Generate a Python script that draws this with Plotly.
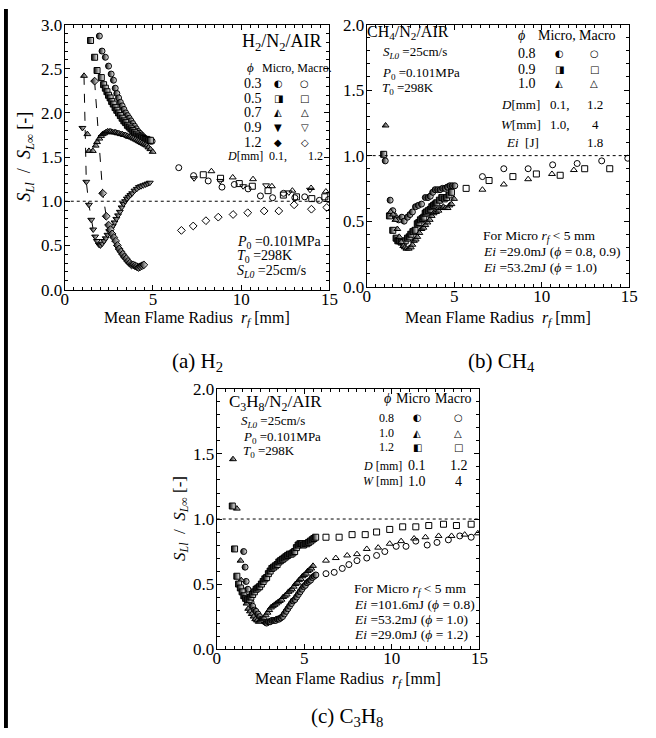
import plotly.graph_objects as go

FONT = "Liberation Serif"
GLYPH = "DejaVu Sans"
W, H = 656, 738

# ---------------- (a) H2/N2/AIR ----------------
h2_micro_03 = [(1.96,2.87),(2.11,2.70),(2.30,2.63),(2.48,2.53),(2.63,2.44),(2.76,2.37),(2.86,2.28),(2.95,2.22),
               (3.05,2.17),(3.15,2.12),(3.25,2.08),(3.35,2.04),(3.45,2.00),(3.55,1.97),(3.65,1.94),(3.75,1.91),
               (3.85,1.88),(3.95,1.85),(4.05,1.82),(4.15,1.79),(4.25,1.77),(4.35,1.75),(4.45,1.73),(4.55,1.71),
               (4.65,1.70),(4.75,1.69),(4.85,1.68),(4.95,1.68)]
h2_micro_05 = [(1.46,2.82),(1.69,2.63),(1.83,2.48),(2.07,2.40),(2.20,2.32),(2.30,2.28),(2.39,2.24),(2.48,2.20),
               (2.57,2.17),(2.66,2.13),(2.75,2.10),(2.85,2.06),(2.95,2.03),(3.05,2.00),(3.15,1.97),(3.25,1.94),
               (3.35,1.91),(3.45,1.89),(3.55,1.86),(3.65,1.84),(3.75,1.82),(3.85,1.80),(3.95,1.78),(4.05,1.76),
               (4.15,1.74),(4.25,1.73),(4.35,1.72),(4.45,1.71),(4.55,1.70),(4.65,1.70),(4.75,1.69),(4.85,1.69)]
h2_micro_07 = [(1.09,2.42),(1.28,1.76),(1.37,1.57),(1.59,1.57),(1.75,1.63),(1.83,1.67),(1.96,1.71),(2.06,1.74),
               (2.15,1.76),(2.24,1.77),(2.33,1.78),(2.42,1.79),(2.52,1.79),(2.61,1.79),(2.70,1.78),(2.80,1.78),
               (2.89,1.78),(2.98,1.77),(3.07,1.77),(3.17,1.76),(3.26,1.76),(3.35,1.75),(3.44,1.75),(3.54,1.74),
               (3.63,1.73),(3.72,1.73),(3.81,1.72),(3.90,1.71),(4.00,1.70),(4.10,1.69),(4.19,1.68),(4.28,1.67),
               (4.37,1.66),(4.47,1.65),(4.56,1.64),(4.65,1.63),(4.74,1.61),(4.85,1.59),(4.98,1.56)]
h2_micro_09 = [(1.00,1.83),(1.22,1.22),(1.37,0.96),(1.50,0.79),(1.61,0.68),(1.72,0.60),(1.82,0.55),(1.93,0.51),
               (2.02,0.50),(2.12,0.52),(2.22,0.55),(2.32,0.58),(2.42,0.62),(2.52,0.66),(2.62,0.69),(2.72,0.72),
               (2.82,0.76),(2.92,0.80),(3.02,0.84),(3.12,0.88),(3.22,0.93),(3.32,0.97),(3.42,1.00),(3.52,1.03),
               (3.62,1.05),(3.72,1.07),(3.82,1.09),(3.95,1.12),(4.08,1.14),(4.20,1.16),(4.32,1.17),(4.45,1.18),
               (4.58,1.19),(4.70,1.20),(4.82,1.21)]
h2_micro_12 = [(1.69,2.36),(2.15,1.09),(2.35,0.83),(2.48,0.73),(2.58,0.68),(2.68,0.63),(2.78,0.59),(2.88,0.55),
               (2.98,0.50),(3.08,0.46),(3.18,0.43),(3.28,0.40),(3.38,0.37),(3.48,0.35),(3.58,0.32),(3.68,0.30),
               (3.78,0.28),(3.88,0.28),(3.98,0.27),(4.08,0.26),(4.18,0.25),(4.28,0.26),(4.38,0.27),(4.48,0.28)]
h2_guide_1 = [(1.09,2.42),(1.22,1.22),(1.37,0.96),(1.50,0.79),(1.61,0.68)]
h2_guide_2 = [(1.69,2.36),(2.15,1.09),(2.35,0.83)]

h2_macro_03 = [(6.46,1.38),(7.30,1.29),(8.13,1.23),(8.91,1.16),(9.61,1.19),(10.39,1.14),(11.09,1.06),
               (11.78,1.04),(12.40,1.09),(13.04,1.04),(13.60,1.05),(14.43,1.01),(14.95,1.02)]
h2_macro_05 = [(7.85,1.30),(8.83,1.26),(9.89,1.20),(10.63,1.17),(11.52,1.12),(12.39,1.07),(13.13,1.05),
               (14.00,1.03),(14.74,1.05)]
h2_macro_07 = [(8.31,1.34),(9.52,1.27),(10.67,1.25),(11.74,1.17),(12.90,1.12),(13.96,1.15),(14.80,1.11)]
h2_macro_09 = [(7.33,1.26),(8.81,1.23),(10.11,1.17),(11.41,1.18),(12.70,1.10),(13.90,1.13)]
h2_macro_12 = [(6.61,0.67),(7.28,0.72),(8.00,0.78),(8.70,0.82),(9.54,0.85),(10.37,0.87),(11.30,0.89),
               (12.13,0.89),(13.00,0.96),(13.98,0.91),(14.85,0.93)]

# ---------------- (b) CH4/N2/AIR ----------------
ch4_micro_08 = [(1.06,0.96),(1.34,0.66),(1.49,0.58),(1.58,0.54),(1.70,0.52),(1.83,0.51),(2.01,0.53),(2.14,0.50),
                (2.33,0.53),(2.47,0.55),(2.61,0.57),(2.79,0.61),(2.95,0.62),(3.13,0.63),(3.35,0.68),(3.50,0.68),
                (3.63,0.69),(3.77,0.72),(3.91,0.74),(4.05,0.74),(4.19,0.74),(4.33,0.75),(4.47,0.75),(4.61,0.76),
                (4.75,0.77),(4.89,0.77),(5.03,0.77)]
ch4_micro_09 = [(0.97,1.01),(1.30,0.54),(1.49,0.43),(1.68,0.37),(1.78,0.35),(1.86,0.35),(1.97,0.34),(2.09,0.34),
                (2.20,0.35),(2.33,0.37),(2.43,0.38),(2.52,0.40),(2.64,0.42),(2.76,0.43),(2.89,0.48),(2.98,0.49),
                (3.07,0.51),(3.17,0.52),(3.26,0.53),(3.34,0.56),(3.41,0.57),(3.52,0.58),(3.63,0.59),(3.72,0.61),
                (3.82,0.62),(3.91,0.63),(4.00,0.64),(4.15,0.66),(4.29,0.68),(4.43,0.67),(4.56,0.68),(4.70,0.70),
                (4.84,0.72)]
ch4_micro_10 = [(1.08,1.23),(1.36,0.57),(1.50,0.55),(1.64,0.51),(1.75,0.44),(1.86,0.38),(1.97,0.34),(2.09,0.31),
                (2.18,0.30),(2.27,0.29),(2.40,0.29),(2.52,0.30),(2.61,0.32),(2.70,0.35),(2.80,0.36),(2.89,0.38),
                (3.01,0.41),(3.13,0.44),(3.24,0.45),(3.35,0.47),(3.47,0.49),(3.60,0.51),(3.71,0.54),(3.82,0.56),
                (3.96,0.57),(4.10,0.58),(4.24,0.60),(4.38,0.61),(4.50,0.60),(4.62,0.60),(4.73,0.62),(4.84,0.63),
                (4.99,0.67)]
ch4_macro_08 = [(6.61,0.84),(7.83,0.90),(9.22,0.90),(10.62,0.93),(12.02,0.94),(13.42,0.96),(14.91,0.98)]
ch4_macro_09 = [(5.68,0.75),(6.99,0.81),(8.35,0.84),(9.69,0.86),(11.05,0.85),(12.45,0.90),(13.88,0.90)]
ch4_macro_10 = [(6.61,0.74),(7.83,0.78),(9.22,0.82),(10.58,0.86),(11.83,0.89)]

# ---------------- (c) C3H8/N2/AIR ----------------
c3_micro_08 = [(1.54,0.75),(1.62,0.63),(1.68,0.52),(1.78,0.46),(1.86,0.40),(1.96,0.36),(2.05,0.33),(2.15,0.30),
               (2.24,0.29),(2.35,0.27),(2.45,0.25),(2.55,0.23),(2.65,0.22),(2.75,0.21),(2.85,0.20),(2.95,0.21),
               (3.05,0.21),(3.15,0.22),(3.26,0.22),(3.36,0.22),(3.46,0.23),(3.56,0.23),(3.66,0.24),(3.76,0.25),
               (3.86,0.27),(3.96,0.29),(4.06,0.31),(4.16,0.33),(4.26,0.35),(4.36,0.37),(4.46,0.38),(4.56,0.40),
               (4.66,0.42),(4.76,0.44),(4.86,0.46),(4.96,0.48),(5.06,0.49),(5.16,0.51),(5.26,0.52),(5.36,0.53),
               (5.46,0.55),(5.56,0.56),(5.66,0.57)]
c3_micro_10 = [(0.93,1.46),(1.15,1.08),(1.36,0.68),(1.40,0.53),(1.50,0.46),(1.60,0.40),(1.70,0.35),(1.80,0.31),
               (1.90,0.29),(2.00,0.27),(2.10,0.25),(2.20,0.23),(2.30,0.22),(2.40,0.21),(2.50,0.22),(2.60,0.23),
               (2.70,0.24),(2.80,0.26),(2.90,0.28),(3.00,0.30),(3.10,0.32),(3.20,0.33),(3.30,0.34),(3.40,0.35),
               (3.50,0.36),(3.60,0.37),(3.70,0.38),(3.80,0.40),(3.90,0.41),(4.00,0.42),(4.10,0.44),(4.20,0.45),
               (4.30,0.46),(4.40,0.48),(4.50,0.50),(4.60,0.51),(4.70,0.53),(4.80,0.54),(4.90,0.56),(5.00,0.57),
               (5.10,0.58),(5.20,0.60),(5.30,0.61),(5.40,0.62),(5.50,0.64)]
c3_micro_12 = [(0.89,1.10),(1.02,0.77),(1.15,0.56),(1.25,0.50),(1.35,0.47),(1.45,0.44),(1.55,0.41),(1.65,0.39),
               (1.75,0.38),(1.85,0.38),(1.95,0.40),(2.05,0.42),(2.15,0.44),(2.25,0.46),(2.35,0.47),(2.45,0.48),
               (2.55,0.50),(2.65,0.52),(2.75,0.54),(2.85,0.55),(2.95,0.58),(3.05,0.60),(3.15,0.62),(3.25,0.63),
               (3.35,0.64),(3.45,0.65),(3.55,0.67),(3.65,0.68),(3.75,0.69),(3.85,0.70),(3.95,0.71),(4.05,0.72),
               (4.15,0.73),(4.25,0.73),(4.35,0.74),(4.45,0.75),(4.55,0.78),(4.65,0.80),(4.75,0.81),(4.85,0.81),
               (4.95,0.80),(5.05,0.81),(5.15,0.81),(5.25,0.82),(5.35,0.83),(5.45,0.84),(5.55,0.85),(5.65,0.86)]
c3_macro_08 = [(6.24,0.58),(6.71,0.59),(7.17,0.62),(7.55,0.65),(8.01,0.68),(8.57,0.70),(9.13,0.72),(9.60,0.75),
               (10.25,0.79),(10.81,0.79),(11.37,0.83),(12.02,0.80),(12.58,0.82),(13.23,0.84),(13.88,0.87),(14.53,0.86)]
c3_macro_10 = [(6.24,0.68),(6.80,0.70),(7.45,0.72),(8.01,0.73),(8.57,0.77),(9.22,0.78),(9.88,0.81),(10.53,0.83),
               (11.27,0.85),(11.92,0.86),(12.67,0.87),(13.41,0.87),(14.16,0.88),(14.91,0.89)]
c3_macro_12 = [(6.24,0.86),(6.99,0.86),(7.73,0.88),(8.48,0.88),(9.13,0.90),(9.88,0.92),(10.62,0.94),(11.37,0.94),
               (12.11,0.95),(12.95,0.96),(13.69,0.95),(14.53,0.96)]

reference_ratio = 1.0
x_ticks = [0, 5, 10, 15]

# ---------------- helpers ----------------
def xs(pts): return [p[0] for p in pts]
def ys(pts): return [p[1] for p in pts]

def micro(sym):
    return dict(symbol=sym, size=6, color="black",
                gradient=dict(type="horizontal", color="white"),
                line=dict(color="black", width=1))

def macro(sym):
    return dict(symbol=sym + "-open", size=6, color="black", line=dict(color="black", width=1))

fig = go.Figure()

def add(pts, marker, xa, ya):
    fig.add_trace(go.Scatter(x=xs(pts), y=ys(pts), mode="markers", marker=marker,
                             xaxis=xa, yaxis=ya, showlegend=False, hoverinfo="skip"))

def add_line(pts, xa, ya):
    fig.add_trace(go.Scatter(x=xs(pts), y=ys(pts), mode="lines",
                             line=dict(color="black", width=1, dash="dash"),
                             xaxis=xa, yaxis=ya, showlegend=False, hoverinfo="skip"))

# (a)
add_line(h2_guide_1, "x", "y")
add_line(h2_guide_2, "x", "y")
for pts, sym in [(h2_macro_03, "circle"), (h2_macro_05, "square"), (h2_macro_07, "triangle-up"),
                 (h2_macro_09, "triangle-down"), (h2_macro_12, "diamond")]:
    add(pts, macro(sym), "x", "y")
for pts, sym in [(h2_micro_03, "circle"), (h2_micro_05, "square"), (h2_micro_07, "triangle-up"),
                 (h2_micro_09, "triangle-down"), (h2_micro_12, "diamond")]:
    add(pts, micro(sym), "x", "y")
# (b)
for pts, sym in [(ch4_macro_08, "circle"), (ch4_macro_09, "square"), (ch4_macro_10, "triangle-up")]:
    add(pts, macro(sym), "x2", "y2")
for pts, sym in [(ch4_micro_08, "circle"), (ch4_micro_09, "square"), (ch4_micro_10, "triangle-up")]:
    add(pts, micro(sym), "x2", "y2")
# (c)
for pts, sym in [(c3_macro_08, "circle"), (c3_macro_10, "triangle-up"), (c3_macro_12, "square")]:
    add(pts, macro(sym), "x3", "y3")
for pts, sym in [(c3_micro_08, "circle"), (c3_micro_10, "triangle-up"), (c3_micro_12, "square")]:
    add(pts, micro(sym), "x3", "y3")

# ---------------- axes ----------------
def px_x(a, b): return [a / W, b / W]
def px_y(top, bottom): return [1 - bottom / H, 1 - top / H]

def xaxis(domain, anchor):
    return dict(domain=domain, anchor=anchor, range=[0, 15], tickvals=x_ticks,
                ticks="inside", ticklen=5, tickwidth=1, tickcolor="black",
                showline=True, linecolor="black", linewidth=1, mirror="allticks",
                showgrid=False, zeroline=False, ticklabelstandoff=-6,
                minor=dict(dtick=0.5, tick0=0, ticks="inside", ticklen=3, tickwidth=1, tickcolor="black", showgrid=False),
                tickfont=dict(family=FONT, size=17, color="black"))

def yaxis(domain, anchor, top):
    return dict(domain=domain, anchor=anchor, range=[0, top], dtick=0.5, tick0=0, tickformat=".1f",
                ticks="inside", ticklen=5, tickwidth=1, tickcolor="black",
                showline=True, linecolor="black", linewidth=1, mirror="allticks",
                showgrid=False, zeroline=False, ticklabelstandoff=-2,
                minor=dict(dtick=0.1, tick0=0, ticks="inside", ticklen=3, tickwidth=1, tickcolor="black", showgrid=False),
                tickfont=dict(family=FONT, size=17, color="black"))

layout_axes = dict(
    xaxis=xaxis(px_x(62, 332), "y"), yaxis=yaxis(px_y(16, 288), "x", 3.0),
    xaxis2=xaxis(px_x(370, 638), "y2"), yaxis2=yaxis(px_y(16, 285), "x2", 2.0),
    xaxis3=xaxis(px_x(217, 485), "y3"), yaxis3=yaxis(px_y(390, 657), "x3", 2.0),
)

shapes = []
for xr, yr in [("x", "y"), ("x2", "y2"), ("x3", "y3")]:
    shapes.append(dict(type="line", xref=xr + " domain", x0=0, x1=1, yref=yr,
                       y0=reference_ratio, y1=reference_ratio,
                       line=dict(color="black", width=1, dash="dot")))
shapes.append(dict(type="rect", xref="paper", yref="paper", x0=0, x1=4 / W, y0=0, y1=1,
                   fillcolor="black", line=dict(width=0)))

# ---------------- annotations ----------------
ann = []
def T(x, y, text, size, xr="paper", yr="paper", xa="center", ya="middle", fam=FONT, angle=0):
    if xr == "paper":
        x = x / W
    if yr == "paper":
        y = 1 - y / H
    ann.append(dict(x=x, y=y, xref=xr, yref=yr, text=text, showarrow=False, xanchor=xa, yanchor=ya,
                    textangle=angle, font=dict(family=fam, size=size, color="black")))

PHI = "<i>ϕ</i>"
SL0 = "<i>S</i><sub><i>L0</i></sub> =25cm/s"
P0 = "<i>P</i><sub>0</sub> =0.101MPa"
T0 = "<i>T</i><sub>0</sub> =298K"
XT = "Mean Flame Radius  <i>r</i><sub><i>f</i></sub> [mm]"
YT = "<i>S</i><sub><i>Ll</i></sub>  /  <i>S</i><sub><i>L∞</i></sub> [-]"

# axis titles & captions
T(197, 318, XT, 16)
T(504, 318, XT, 16)
T(351, 688, XT, 16)
T(22, 152, YT, 18, angle=-90)
T(180, 523, YT, 17, angle=-90)
T(197, 362, "(a) H<sub>2</sub>", 21)
T(508, 362, "(b) CH<sub>4</sub>", 21)
T(350, 727, "(c) C<sub>3</sub>H<sub>8</sub>", 21)

# (a) texts
xa_, ya_ = "x", "y"
T(12.3, 2.80, "H<sub>2</sub>/N<sub>2</sub>/AIR", 18, xa_, ya_)
T(10.55, 2.51, PHI, 13, xa_, ya_)
T(13.15, 2.51, "Micro, Macro.", 12, xa_, ya_)
for lab, yy, gm, gM in [("0.3", 2.33, "◐", "○"), ("0.5", 2.165, "◨", "□"), ("0.7", 2.0, "◭", "△"),
                         ("0.9", 1.835, "▼", "▽"), ("1.2", 1.67, "◆", "◇")]:
    T(10.65, yy, lab, 14, xa_, ya_)
    T(12.1, yy, gm, 10, xa_, ya_, fam=GLYPH)
    T(13.6, yy, gM, 10, xa_, ya_, fam=GLYPH)
T(10.2, 1.51, "<i>D</i>[mm]", 12, xa_, ya_)
T(12.1, 1.51, "0.1,", 12, xa_, ya_)
T(14.2, 1.51, "1.2", 12, xa_, ya_)
T(9.63, 0.53, P0, 14, xa_, ya_, xa="left")
T(9.63, 0.37, T0, 14, xa_, ya_, xa="left")
T(9.63, 0.20, SL0, 14, xa_, ya_, xa="left")

# (b) texts
xa_, ya_ = "x2", "y2"
T(2.38, 1.94, "CH<sub>4</sub>/N<sub>2</sub>/AIR", 16, xa_, ya_)
T(0.84, 1.79, SL0, 13, xa_, ya_, xa="left")
T(0.75, 1.63, P0, 13, xa_, ya_, xa="left")
T(0.75, 1.51, T0, 13, xa_, ya_, xa="left")
T(8.85, 1.92, PHI, 14, xa_, ya_)
T(10.85, 1.92, "Micro,", 14, xa_, ya_)
T(13.2, 1.92, "Macro", 14, xa_, ya_)
for lab, yy, gm, gM in [("0.8", 1.78, "◐", "○"), ("0.9", 1.66, "◨", "□"), ("1.0", 1.55, "◭", "△")]:
    T(9.13, yy, lab, 14, xa_, ya_)
    T(11.0, yy, gm, 10, xa_, ya_, fam=GLYPH)
    T(13.0, yy, gM, 10, xa_, ya_, fam=GLYPH)
T(8.8, 1.39, "<i>D</i>[mm]", 13, xa_, ya_)
T(11.04, 1.39, "0.1,", 13, xa_, ya_)
T(13.04, 1.39, "1.2", 13, xa_, ya_)
T(8.8, 1.24, "<i>W</i>[mm]", 13, xa_, ya_)
T(11.04, 1.24, "1.0,", 13, xa_, ya_)
T(13.04, 1.24, "4", 13, xa_, ya_)
T(8.9, 1.10, "<i>Ei</i>  [J]", 13, xa_, ya_)
T(13.04, 1.10, "1.8", 13, xa_, ya_)
T(6.52, 0.38, "For Micro <i>r</i><sub><i>f</i></sub> &lt; 5 mm", 13.5, xa_, ya_, xa="left")
T(6.52, 0.265, "<i>Ei</i> =29.0mJ (" + PHI + " = 0.8, 0.9)", 13.5, xa_, ya_, xa="left")
T(6.52, 0.15, "<i>Ei</i> =53.2mJ (" + PHI + " = 1.0)", 13.5, xa_, ya_, xa="left")

# (c) texts
xa_, ya_ = "x3", "y3"
T(3.35, 1.89, "C<sub>3</sub>H<sub>8</sub>/N<sub>2</sub>/AIR", 17, xa_, ya_)
T(1.30, 1.75, SL0, 13, xa_, ya_, xa="left")
T(1.40, 1.63, P0, 13, xa_, ya_, xa="left")
T(1.40, 1.52, T0, 13, xa_, ya_, xa="left")
T(9.78, 1.93, PHI, 14, xa_, ya_)
T(11.22, 1.93, "Micro", 14, xa_, ya_)
T(13.5, 1.93, "Macro", 14, xa_, ya_)
for lab, yy, gm, gM in [("0.8", 1.78, "◐", "○"), ("1.0", 1.66, "◭", "△"), ("1.2", 1.55, "◧", "□")]:
    T(9.69, yy, lab, 12, xa_, ya_)
    T(11.46, yy, gm, 10, xa_, ya_, fam=GLYPH)
    T(13.79, yy, gM, 10, xa_, ya_, fam=GLYPH)
T(9.47, 1.41, "<i>D</i> [mm]", 12, xa_, ya_)
T(11.46, 1.41, "0.1", 14, xa_, ya_)
T(13.84, 1.41, "1.2", 14, xa_, ya_)
T(9.47, 1.29, "<i>W</i> [mm]", 12, xa_, ya_)
T(11.46, 1.29, "1.0", 14, xa_, ya_)
T(13.79, 1.29, "4", 14, xa_, ya_)
T(7.73, 0.46, "For Micro <i>r</i><sub><i>f</i></sub> &lt; 5 mm", 13.5, xa_, ya_, xa="left")
T(7.73, 0.34, "<i>Ei</i> =101.6mJ (" + PHI + " = 0.8)", 13.5, xa_, ya_, xa="left")
T(7.73, 0.23, "<i>Ei</i> =53.2mJ (" + PHI + " = 1.0)", 13.5, xa_, ya_, xa="left")
T(7.73, 0.11, "<i>Ei</i> =29.0mJ (" + PHI + " = 1.2)", 13.5, xa_, ya_, xa="left")

fig.update_layout(width=W, height=H, margin=dict(l=0, r=0, t=0, b=0),
                  paper_bgcolor="white", plot_bgcolor="white",
                  font=dict(family=FONT, color="black"),
                  shapes=shapes, annotations=ann, **layout_axes)

fig.write_html("out.html")
